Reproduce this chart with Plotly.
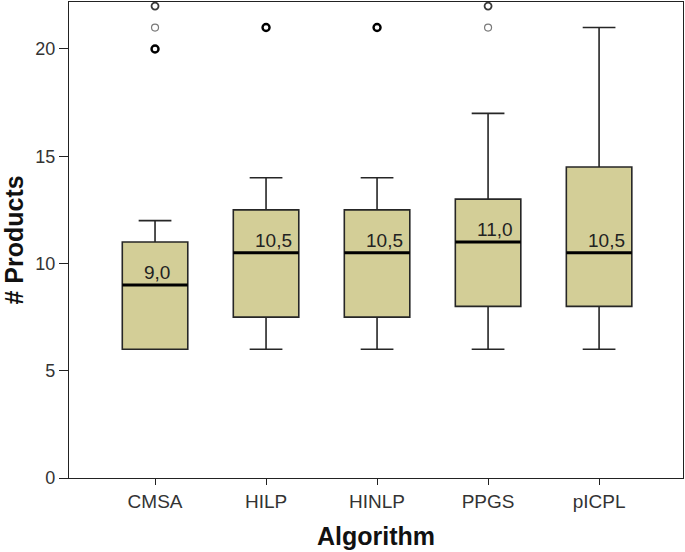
import plotly.graph_objects as go

categories = ["CMSA", "HILP", "HINLP", "PPGS", "pICPL"]
q1 = [6, 7.5, 7.5, 8, 8]
median = [9, 10.5, 10.5, 11, 10.5]
q3 = [11, 12.5, 12.5, 13, 14.5]
lower_whisker = [6, 6, 6, 6, 6]
upper_whisker = [12, 14, 14, 17, 21]
median_labels = ["9,0", "10,5", "10,5", "11,0", "10,5"]
# outliers: (category index, value, count of overlapping cases)
outlier_cat = [0, 0, 0, 1, 2, 3, 3]
outlier_val = [20, 21, 22, 21, 21, 21, 22]
outlier_cnt = [3, 1, 2, 3, 3, 1, 2]

xpos = list(range(len(categories)))
box_w = 0.59
fill = "#D3CE97"
FONT = "Liberation Sans, Arial, sans-serif"

fig = go.Figure()
fig.add_trace(go.Box(
    x=xpos, q1=q1, median=median, q3=q3,
    lowerfence=lower_whisker, upperfence=upper_whisker,
    boxpoints=False, width=box_w, whiskerwidth=0.5,
    fillcolor=fill, line=dict(color="#262626", width=1.6),
    showlegend=False, hoverinfo="skip",
))

# thick median lines
for i, m in zip(xpos, median):
    fig.add_trace(go.Scatter(
        x=[i - box_w / 2, i + box_w / 2], y=[m, m], mode="lines",
        line=dict(color="black", width=3), showlegend=False, hoverinfo="skip",
    ))

# outliers
colors = {1: "#7a7a7a", 2: "#3a3a3a", 3: "#000000"}
widths = {1: 1.2, 2: 1.8, 3: 2.4}
fig.add_trace(go.Scatter(
    x=[xpos[c] for c in outlier_cat], y=outlier_val, mode="markers",
    marker=dict(symbol="circle-open", size=7,
                color=[colors[n] for n in outlier_cnt],
                line=dict(color=[colors[n] for n in outlier_cnt],
                          width=[widths[n] for n in outlier_cnt])),
    showlegend=False, hoverinfo="skip", cliponaxis=False,
))

for i, m, lab in zip(xpos, median, median_labels):
    fig.add_annotation(x=i, y=m, text=lab, showarrow=False,
                       xanchor="left", yanchor="bottom", xshift=-13, yshift=0,
                       font=dict(family=FONT, size=19, color="#222"))

fig.update_layout(
    width=685, height=552,
    margin=dict(l=69, r=2, t=2, b=74),
    paper_bgcolor="white", plot_bgcolor="white",
    font=dict(family=FONT, color="#222"),
    xaxis=dict(
        range=[-0.775, 4.756], tickmode="array", tickvals=xpos, ticktext=categories,
        showline=True, linecolor="#222", linewidth=1.3, mirror=True,
        ticks="outside", ticklen=6, tickcolor="#222", tickwidth=1,
        showgrid=False, zeroline=False,
        tickfont=dict(size=19, color="#333"),
        title=dict(text="<b>Algorithm</b>", font=dict(size=25, color="#111"), standoff=16),
    ),
    yaxis=dict(
        range=[0, 22.19], tickvals=[0, 5, 10, 15, 20],
        showline=True, linecolor="#222", linewidth=1.3, mirror=True,
        ticks="outside", ticklen=9, tickcolor="#222", tickwidth=1,
        showgrid=False, zeroline=False,
        tickfont=dict(size=18, color="#333"),
        title=dict(text="<b># Products</b>", font=dict(size=25, color="#111"), standoff=8),
    ),
)

fig.write_html("out.html", config={"displayModeBar": False},
               post_script="document.body.style.margin='0';")
